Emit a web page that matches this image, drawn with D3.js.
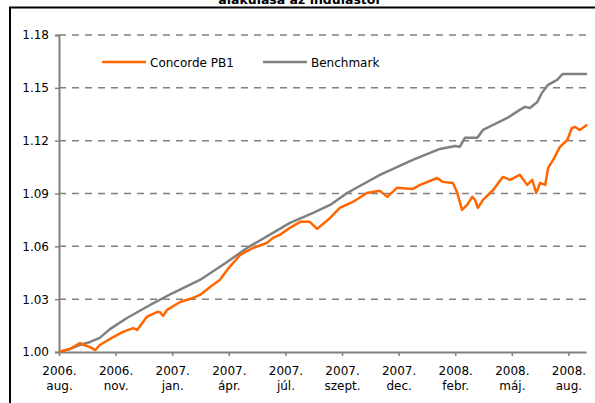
<!DOCTYPE html>
<html><head><meta charset="utf-8">
<script src="https://cdn.jsdelivr.net/npm/d3@7"></script>
<style>
html,body{margin:0;padding:0;background:#fff;}
svg{display:block;font-family:"DejaVu Sans",Verdana,sans-serif;}
</style></head>
<body>
<svg id="c" width="595" height="403"></svg>
<script>
const title = "alakulása az indulástól";
const tickYears = ["2006.","2006.","2007.","2007.","2007.","2007.","2007.","2008.","2008.","2008."];
const tickMonths = ["aug.","nov.","jan.","ápr.","júl.","szept.","dec.","febr.","máj.","aug."];
const yTicks = [1.00,1.03,1.06,1.09,1.12,1.15,1.18];
const seriesNames = ["Concorde PB1","Benchmark"];
const seriesColors = ["#FF6600","#808080"];
// x in tick-interval units (0 = 2006 aug, 9 = 2008 aug)
const benchX = [0,0.19,0.37,0.55,0.72,0.90,1.20,1.61,2.01,2.49,2.97,3.32,3.78,4.08,4.49,4.79,5.09,5.67,6.25,6.38,6.73,7.00,7.08,7.17,7.39,7.49,7.67,7.92,8.14,8.23,8.32,8.45,8.53,8.64,8.80,8.90,9.33];
const benchY = [1.000,1.0017,1.004,1.0057,1.008,1.013,1.0193,1.0267,1.0335,1.0409,1.0511,1.0591,1.0676,1.0733,1.079,1.0835,1.0903,1.1006,1.1091,1.1108,1.1153,1.117,1.1165,1.1216,1.1216,1.1261,1.1289,1.1329,1.1375,1.1392,1.1386,1.142,1.1471,1.1517,1.1545,1.1579,1.1579];
const pbX = [0,0.19,0.37,0.44,0.55,0.64,0.72,0.90,1.13,1.31,1.38,1.55,1.73,1.78,1.84,1.91,2.14,2.37,2.49,2.67,2.84,2.97,3.20,3.43,3.67,3.78,3.90,4.08,4.26,4.43,4.56,4.79,4.96,5.19,5.44,5.67,5.80,5.97,6.25,6.38,6.68,6.78,6.96,7.03,7.12,7.21,7.30,7.35,7.40,7.49,7.67,7.84,7.97,8.14,8.27,8.36,8.43,8.50,8.59,8.64,8.73,8.85,8.98,9.06,9.12,9.20,9.33];
const pbY = [1.000,1.0017,1.0051,1.004,1.0028,1.0011,1.004,1.0074,1.0114,1.0136,1.0125,1.0199,1.0227,1.0227,1.0205,1.0239,1.0284,1.0307,1.0324,1.0369,1.0409,1.0466,1.0551,1.0591,1.0619,1.0648,1.0665,1.0705,1.0739,1.0739,1.0699,1.0761,1.0818,1.0852,1.0903,1.0915,1.0881,1.0932,1.0926,1.0949,1.0988,1.0966,1.096,1.0909,1.0807,1.0835,1.0881,1.0864,1.0818,1.0864,1.092,1.0994,1.0977,1.1006,1.0949,1.0977,1.0903,1.096,1.0949,1.1045,1.1091,1.1165,1.1204,1.1272,1.1278,1.1261,1.129];

const svg = d3.select("#c");
const L = 59, R = 586, T = 35, B = 352;
const x = d3.scaleLinear().domain([0, 9.31]).range([L, R]);
const y = d3.scaleLinear().domain([1.00, 1.18]).range([B, T]);

// frame
svg.append("path").attr("d", `M10,420 L10,7.5 L600,7.5`).attr("fill","none").attr("stroke","#000").attr("stroke-width",2);
// title (clipped at top, as in the reference)
svg.append("text").attr("x", 299).attr("y", 3.5).attr("text-anchor","middle")
  .attr("font-size",12.5).attr("font-weight","bold").attr("fill","#000").text(title);

// grid
svg.append("g").selectAll("line").data(yTicks.filter(d => d > 1.0001)).join("line")
  .attr("x1", L).attr("x2", R).attr("y1", d => y(d)).attr("y2", d => y(d))
  .attr("stroke","#808080").attr("stroke-width",1.5).attr("stroke-dasharray","7,6");

// y axis
const ya = svg.append("g").attr("transform",`translate(${L},0)`)
  .call(d3.axisLeft(y).tickValues(yTicks).tickFormat(d3.format(".2f")).tickSize(4).tickPadding(6));
ya.select(".domain").attr("stroke","#808080").attr("stroke-width",2);
ya.selectAll(".tick line").attr("stroke","#808080").attr("stroke-width",1.5);
ya.selectAll(".tick text").attr("font-size",12).attr("font-family","DejaVu Sans").attr("fill","#000");

// x axis
const xa = svg.append("g").attr("transform",`translate(0,${B})`)
  .call(d3.axisBottom(x).tickValues(d3.range(10)).tickFormat(i => tickYears[i]).tickSize(4).tickSizeOuter(0).tickPadding(10));
xa.select(".domain").attr("stroke","#808080").attr("stroke-width",2);
xa.selectAll(".tick line").attr("stroke","#808080").attr("stroke-width",1.5);
xa.selectAll(".tick text").attr("font-size",12).attr("font-family","DejaVu Sans").attr("fill","#000")
  .each(function(i){
    const t = d3.select(this); t.text(null);
    t.append("tspan").attr("x",0).attr("dy","0.71em").text(tickYears[i]);
    t.append("tspan").attr("x",0).attr("dy","1.3em").text(tickMonths[i]);
  });

// lines
const line = d3.line().x(d => x(d[0])).y(d => y(d[1]));
const bench = benchX.map((v,i) => [v, benchY[i]]);
const pb = pbX.map((v,i) => [v, pbY[i]]);
svg.append("path").datum(bench).attr("d", line).attr("fill","none").attr("stroke",seriesColors[1]).attr("stroke-width",2.5).attr("stroke-linejoin","round");
svg.append("path").datum(pb).attr("d", line).attr("fill","none").attr("stroke",seriesColors[0]).attr("stroke-width",2.5).attr("stroke-linejoin","round");

// legend
const leg = [{x0:102, tx:150},{x0:263, tx:311}];
seriesNames.forEach((n,i) => {
  svg.append("line").attr("x1",leg[i].x0).attr("x2",leg[i].x0+44).attr("y1",62).attr("y2",62)
    .attr("stroke",seriesColors[i]).attr("stroke-width",2.5);
  svg.append("text").attr("x",leg[i].tx).attr("y",66.5).attr("font-size",12).attr("fill","#000").text(n);
});
</script>
</body></html>
